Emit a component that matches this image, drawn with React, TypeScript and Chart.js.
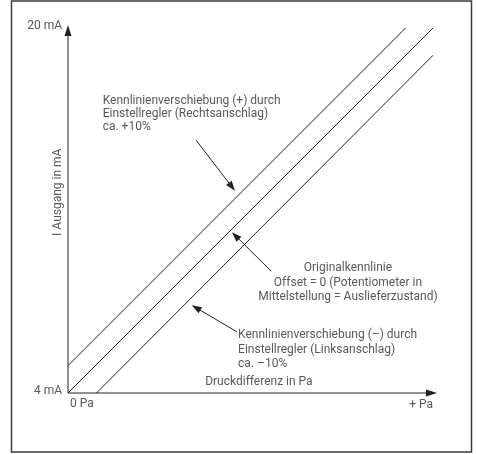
import React, { useEffect, useRef } from "react";
import { Chart, registerables } from "chart.js";

Chart.register(...registerables);

// Series (x: Druckdifferenz in % of range, y: Ausgang in mA)
const plusX = [0, 92.5];
const plusY = [5.2, 20];
const origX = [0, 100];
const origY = [4, 20];
const minusX = [7.8, 100];
const minusY = [4, 18.8];

// Tick labels
const yTickValues = [20, 4];
const yTickLabels = ["20 mA", "4 mA"];
const xTickValues = [0, 100];
const xTickLabels = ["0 Pa", "+ Pa"];
const xTitle = "Druckdifferenz in Pa";
const yTitle = "I Ausgang in mA";

// Annotations (anchor in data coordinates)
const ann1Lines = ["Kennlinienverschiebung (+) durch", "Einstellregler (Rechtsanschlag)", "ca. +10%"];
const ann1Anchor = [9.5, 16.79];
const ann1Arrow = [35.1, 15.08, 45.75, 12.86];

const ann2Lines = ["Originalkennlinie", "Offset = 0 (Potentiometer in", "Mittelstellung = Auslieferzustand)"];
const ann2Anchor = [76.7, 9.47];
const ann2Arrow = [55.6, 9.35, 44.9, 11.05];

const ann3Lines = ["Kennlinienverschiebung (–) durch", "Einstellregler (Linksanschlag)", "ca. –10%"];
const ann3Anchor = [46.6, 6.53];
const ann3Arrow = [46.3, 6.68, 33.9, 7.85];

const FONT = "12px Roboto, 'DejaVu Sans', sans-serif";
const TEXT = "#585858";
const INK = "#222222";

function arrowHead(ctx: CanvasRenderingContext2D, x0: number, y0: number, x1: number, y1: number, len: number, half: number) {
  const a = Math.atan2(y1 - y0, x1 - x0);
  ctx.beginPath();
  ctx.moveTo(x1, y1);
  ctx.lineTo(x1 - len * Math.cos(a) + half * Math.sin(a), y1 - len * Math.sin(a) - half * Math.cos(a));
  ctx.lineTo(x1 - len * Math.cos(a) - half * Math.sin(a), y1 - len * Math.sin(a) + half * Math.cos(a));
  ctx.closePath();
  ctx.fill();
}

const decorPlugin = {
  id: "decor",
  beforeDraw(chart: any) {
    const ctx: CanvasRenderingContext2D = chart.ctx;
    ctx.save();
    ctx.fillStyle = "#ffffff";
    ctx.fillRect(0, 0, chart.width, chart.height);
    ctx.restore();
  },
  afterDraw(chart: any) {
    const ctx: CanvasRenderingContext2D = chart.ctx;
    const xs = chart.scales.x;
    const ys = chart.scales.y;
    const area = chart.chartArea;
    const X = (v: number) => xs.getPixelForValue(v);
    const Y = (v: number) => ys.getPixelForValue(v);
    ctx.save();

    // frame
    ctx.strokeStyle = "#3a3a3a";
    ctx.lineWidth = 1.5;
    ctx.strokeRect(11.5, 1, 460, 451);

    // axes
    const ox = X(0);
    const oy = Y(4);
    ctx.strokeStyle = INK;
    ctx.fillStyle = INK;
    ctx.lineWidth = 1;
    ctx.beginPath();
    ctx.moveTo(ox, oy);
    ctx.lineTo(ox, area.top + 6);
    ctx.moveTo(ox, oy);
    ctx.lineTo(area.right - 6, oy);
    ctx.stroke();
    arrowHead(ctx, ox, oy, ox, area.top, 11, 3.5);
    arrowHead(ctx, ox, oy, area.right, oy, 11, 3.5);

    ctx.font = FONT;
    ctx.fillStyle = TEXT;
    ctx.textBaseline = "middle";

    // y tick labels
    ctx.textAlign = "right";
    yTickValues.forEach((v, i) => {
      ctx.fillText(yTickLabels[i], ox - 6, Y(v) - 2);
    });
    // x tick labels
    ctx.textAlign = "left";
    ctx.fillText(xTickLabels[0], X(xTickValues[0]) + 2, oy + 11);
    ctx.textAlign = "right";
    ctx.fillText(xTickLabels[1], X(xTickValues[1]), oy + 12);

    // x title
    ctx.textAlign = "center";
    ctx.fillText(xTitle, X(52.3), oy - 11);

    // y title
    ctx.save();
    ctx.translate(ox - 10, Y(12.8));
    ctx.rotate(-Math.PI / 2);
    ctx.textAlign = "center";
    ctx.fillText(yTitle, 0, 0);
    ctx.restore();

    // annotations
    const drawLines = (lines: string[], anchor: number[], align: CanvasTextAlign, lh: number) => {
      ctx.textAlign = align;
      lines.forEach((t, i) => ctx.fillText(t, X(anchor[0]), Y(anchor[1]) + i * lh));
    };
    drawLines(ann1Lines, ann1Anchor, "left", 13);
    drawLines(ann2Lines, ann2Anchor, "center", 14.5);
    drawLines(ann3Lines, ann3Anchor, "left", 14.5);

    ctx.strokeStyle = INK;
    ctx.fillStyle = INK;
    [ann1Arrow, ann2Arrow, ann3Arrow].forEach((a) => {
      const x0 = X(a[0]), y0 = Y(a[1]), x1 = X(a[2]), y1 = Y(a[3]);
      const ang = Math.atan2(y1 - y0, x1 - x0);
      ctx.beginPath();
      ctx.moveTo(x0, y0);
      ctx.lineTo(x1 - 8 * Math.cos(ang), y1 - 8 * Math.sin(ang));
      ctx.stroke();
      arrowHead(ctx, x0, y0, x1, y1, 10, 3.5);
    });

    ctx.restore();
  },
};

export default function App() {
  const ref = useRef<HTMLCanvasElement | null>(null);
  useEffect(() => {
    if (!ref.current) return;
    const toPts = (xs: number[], ys: number[]) => xs.map((x, i) => ({ x, y: ys[i] }));
    const lineStyle = {
      borderColor: INK,
      borderWidth: 1,
      pointRadius: 0,
      fill: false,
      tension: 0,
    };
    const chart = new Chart(ref.current, {
      type: "line",
      data: {
        datasets: [
          { label: "+10%", data: toPts(plusX, plusY), ...lineStyle },
          { label: "Original", data: toPts(origX, origY), ...lineStyle },
          { label: "-10%", data: toPts(minusX, minusY), ...lineStyle },
        ],
      },
      options: {
        animation: false,
        responsive: false,
        maintainAspectRatio: false,
        devicePixelRatio: 1,
        layout: { padding: { left: 68, right: 40, top: 25, bottom: 61 } },
        plugins: { legend: { display: false }, tooltip: { enabled: false } },
        scales: {
          x: { type: "linear", min: 0, max: 101.1, display: false },
          y: { type: "linear", min: 4, max: 20.13, display: false },
        },
      },
      plugins: [decorPlugin],
    });
    return () => chart.destroy();
  }, []);
  return (
    <div style={{ position: "absolute", left: 0, top: 0, width: 477, height: 454, background: "#fff" }}>
      <canvas ref={ref} width={477} height={454} style={{ width: 477, height: 454 }} />
    </div>
  );
}
